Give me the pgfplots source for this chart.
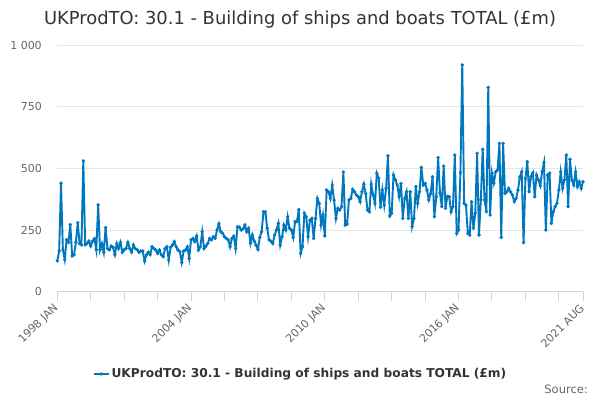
\documentclass[border=0pt]{standalone}
\usepackage{pgfplots}
\pgfplotsset{compat=1.18}
\usepackage{pgfplotstable}
\usepackage{fontspec}
\setmainfont{DejaVu Sans}
\definecolor{series}{RGB}{0,119,190}
\definecolor{txt}{RGB}{51,51,51}
\definecolor{lbl}{RGB}{102,102,102}
\definecolor{gridc}{RGB}{230,230,230}
\definecolor{axisc}{RGB}{204,214,235}
\pgfplotstableread{
m v
0 125
1 165
2 440
3 170
4 130
5 210
6 200
7 272
8 145
9 150
10 200
11 280
12 195
13 190
14 530
15 190
16 195
17 205
18 185
19 205
20 215
21 170
22 352
23 170
24 195
25 160
26 260
27 175
28 170
29 185
30 180
31 150
32 195
33 175
34 200
35 160
36 170
37 175
38 200
39 175
40 160
41 190
42 175
43 170
44 160
45 165
46 165
47 124
48 150
49 160
50 150
51 182
52 175
53 169
54 155
55 169
56 150
57 142
58 175
59 182
60 128
61 180
62 189
63 203
64 182
65 169
66 162
67 118
68 165
69 169
70 182
71 135
72 210
73 216
74 203
75 226
76 169
77 182
78 243
79 175
80 185
81 196
82 216
83 210
84 223
85 216
86 250
87 275
88 243
89 237
90 223
91 216
92 210
93 182
94 216
95 225
96 175
97 263
98 262
99 250
100 255
101 270
102 243
103 257
104 196
105 230
106 205
107 189
108 172
109 220
110 243
111 324
112 324
113 257
114 210
115 205
116 195
117 230
118 250
119 277
120 189
121 223
122 270
123 250
124 304
125 257
126 250
127 220
128 284
129 284
130 333
131 155
132 182
133 318
134 304
135 223
136 290
137 297
138 216
139 297
140 378
141 358
142 270
143 311
144 226
145 412
146 405
147 378
148 432
149 371
150 297
151 338
152 331
153 344
154 485
155 270
156 274
157 372
158 378
159 415
160 405
161 392
162 385
163 365
164 405
165 436
166 398
167 331
168 324
169 436
170 392
171 358
172 480
173 460
174 342
175 412
176 351
177 419
178 551
179 307
180 318
181 473
182 453
183 432
184 385
185 439
186 297
187 378
188 405
189 297
190 405
191 264
192 297
193 426
194 358
195 405
196 504
197 432
198 439
199 412
200 372
201 398
202 466
203 304
204 385
205 544
206 400
207 345
208 509
209 338
210 387
211 385
212 324
213 345
214 554
215 236
216 250
217 482
218 919
219 358
220 351
221 236
222 230
223 365
224 257
225 318
226 561
227 230
228 372
229 577
230 372
231 324
232 828
233 311
234 480
235 440
236 486
237 493
238 601
239 220
240 601
241 399
242 405
243 419
244 405
245 392
246 365
247 378
248 412
249 465
250 486
251 199
252 459
253 527
254 405
255 466
256 482
257 385
258 473
259 453
260 430
261 486
262 523
263 250
264 473
265 480
266 277
267 324
268 345
269 358
270 412
271 486
272 419
273 453
274 554
275 345
276 537
277 453
278 432
279 486
280 426
281 446
282 419
283 446
}\datatable
\begin{document}
\begin{tikzpicture}[x=1pt,y=1pt]
\path[use as bounding box] (0,0) rectangle (600,400);
\node[font=\fontsize{17.9}{21}\selectfont, text=txt] at (300,380) {UKProdTO: 30.1 - Building of ships and boats TOTAL (£m)};
\node[anchor=east, inner sep=0pt, font=\fontsize{11.5}{14}\selectfont, text=lbl] at (588,11) {Source:};
\begin{axis}[
  at={(57.3pt,108.3pt)}, anchor=south west,
  width=525.7pt, height=246.7pt, scale only axis,
  xmin=0, xmax=283, ymin=0, ymax=1000,
  clip=false,
  axis x line*=bottom, axis y line*=left,
  y axis line style={draw=none},
  x axis line style={draw=axisc, line width=1pt},
  ymajorgrids, grid style={draw=gridc, line width=1pt},
  xtick={0,72,144,216,283},
  xticklabels={1998 JAN,2004 JAN,2010 JAN,2016 JAN,2021 AUG},
  minor xtick={18,36,54,90,108,126,162,180,198,234,252,270},
  ytick={0,250,500,750,1000},
  yticklabels={0,250,500,750,1 000},
  tick align=outside,
  major tick length=9pt,
  minor tick length=9pt,
  yticklabel shift=3pt,
  xtick style={draw=axisc, line width=1pt},
  minor x tick style={draw=axisc, line width=1pt},
  ytick style={draw=none},
  xticklabel style={xshift=1.5pt, yshift=-3pt, rotate=45, anchor=east, font=\fontsize{11}{13}\selectfont, text=lbl},
  yticklabel style={font=\fontsize{11}{13}\selectfont, text=lbl},
  legend style={at={(0.4625,-0.3336)}, anchor=center, draw=none, fill=none,
    font=\bfseries\fontsize{12.2}{15}\selectfont, text=txt,
    /tikz/every even column/.append style={column sep=0pt}},
  legend image post style={xscale=0.88},
]
\addplot[color=series, line width=1.9pt, mark=*, mark size=1.6pt, mark options={fill=series, draw=series, line width=0.3pt}] table[x=m, y=v] {\datatable};
\addlegendentry{UKProdTO: 30.1 - Building of ships and boats TOTAL (£m)}
\end{axis}
\end{tikzpicture}
\end{document}
